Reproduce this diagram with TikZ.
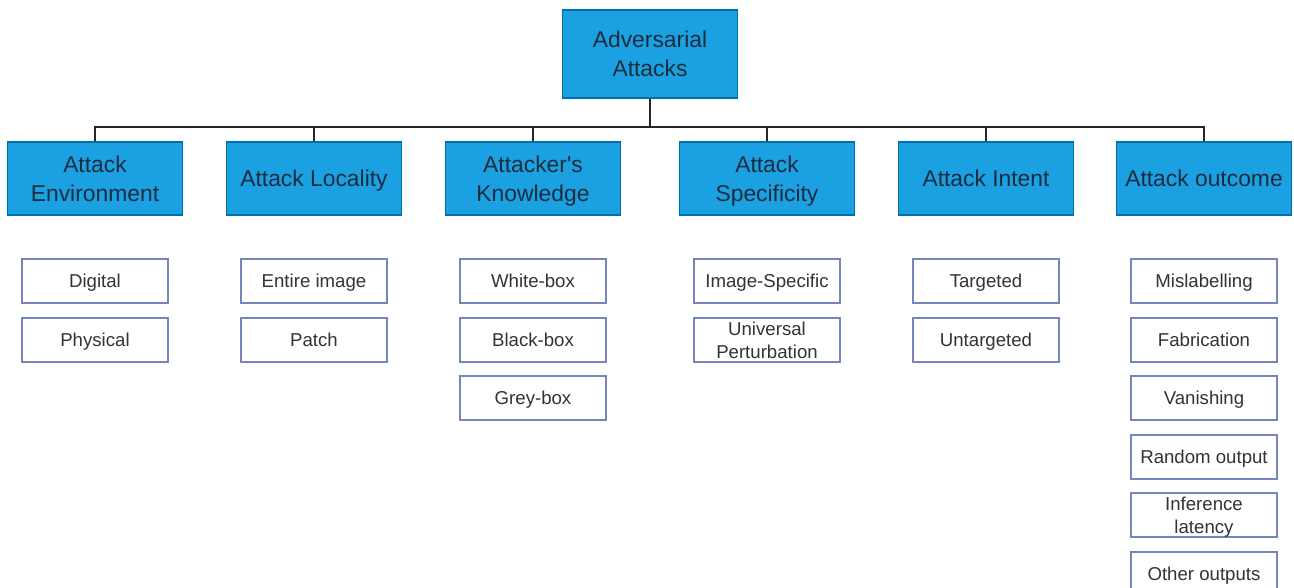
\documentclass[tikz,border=0pt]{standalone}
\usepackage{fontspec}
\setmainfont{Liberation Sans}

\definecolor{catfill}{HTML}{1BA1E2}
\definecolor{catline}{HTML}{006EAF}
\definecolor{cattext}{HTML}{1A2C3E}
\definecolor{leafline}{HTML}{7686BC}
\definecolor{leaftext}{HTML}{333333}

\begin{document}
\begin{tikzpicture}

        \useasboundingbox (0,0) rectangle (25.88,-11.76);

        \begin{scope}[every node/.style={draw=catline, fill=catfill, text=cattext, line width=0.6pt,
            minimum width=3.50cm, minimum height=1.46cm, inner sep=0pt, align=center, text depth=0pt,
            font=\fontsize{13}{16.4}\selectfont}]
          \node (top)     at (13.00,-1.08) [minimum height=1.76cm] {Adversarial\\Attacks};
          \node (env)     at (1.90,-3.57)  {Attack\\Environment};
          \node (loc)     at (6.28,-3.57)  {Attack Locality};
          \node (know)    at (10.66,-3.57) {Attacker\textquotesingle s\\Knowledge};
          \node (spec)    at (15.34,-3.57) {Attack\\Specificity};
          \node (intent)  at (19.72,-3.57) {Attack Intent};
          \node (outcome) at (24.08,-3.57) {Attack outcome};
        \end{scope}

        \begin{scope}[every node/.style={draw=leafline, fill=white, text=leaftext, line width=0.6pt,
            minimum width=2.92cm, minimum height=0.88cm, inner sep=0pt, align=center, text depth=0pt,
            font=\fontsize{10.6}{13}\selectfont}]
          \node (digital)   at (1.90,-5.62)  {Digital};
          \node (physical)  at (1.90,-6.80)  {Physical};
          \node (entire)    at (6.28,-5.62)  {Entire image};
          \node (patch)     at (6.28,-6.80)  {Patch};
          \node (white)     at (10.66,-5.62) {White-box};
          \node (black)     at (10.66,-6.80) {Black-box};
          \node (grey)      at (10.66,-7.96) {Grey-box};
          \node (imgspec)   at (15.34,-5.62) {Image-Specific};
          \node (universal) at (15.34,-6.80) {Universal\\Perturbation};
          \node (targeted)  at (19.72,-5.62) {Targeted};
          \node (untargeted) at (19.72,-6.80) {Untargeted};
          \node (mislabel)  at (24.08,-5.62) {Mislabelling};
          \node (fabric)    at (24.08,-6.80) {Fabrication};
          \node (vanish)    at (24.08,-7.96) {Vanishing};
          \node (random)    at (24.08,-9.14) {Random output};
          \node (latency)   at (24.08,-10.30) {Inference\\latency};
          \node (other)     at (24.08,-11.48) {Other outputs};
        \end{scope}

        \coordinate (bus) at (13.00,-2.54);

        \begin{scope}[every path/.style={draw=black!85, line width=0.8pt}]
          \foreach \c in {env,loc,know,spec,intent,outcome}
            \path (top.south) -- (bus) -| (\c.north);
        \end{scope}

      \end{tikzpicture}
\end{document}
